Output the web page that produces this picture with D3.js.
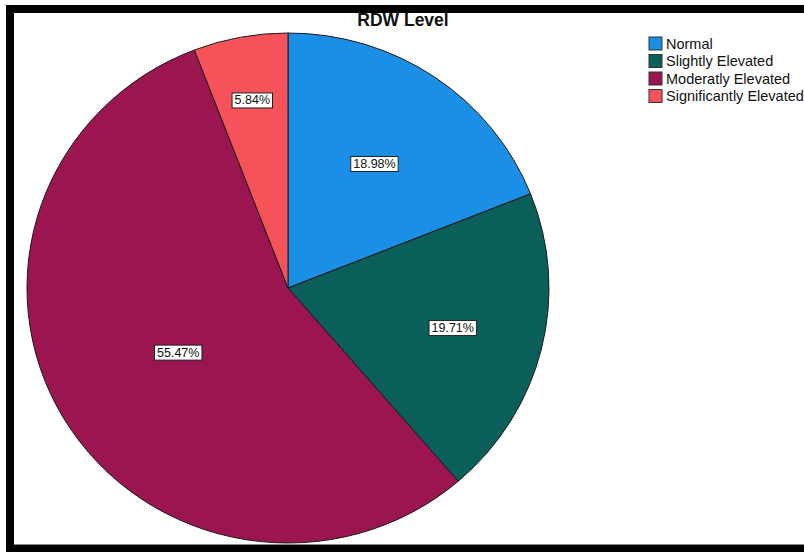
<!DOCTYPE html>
<html>
<head>
<meta charset="utf-8">
<script src="https://cdn.jsdelivr.net/npm/d3@7"></script>
<style>
  body { margin: 0; background: #fff; }
  svg { display: block; font-family: Arial, "Liberation Sans", sans-serif; }
</style>
</head>
<body>
<div id="chart"></div>
<script>
// Data
const categories = ["Normal", "Slightly Elevated", "Moderatly Elevated", "Significantly Elevated"];
const percents = [18.98, 19.71, 55.47, 5.84];
const colors = ["#1b8fe6", "#0a5f5b", "#9b1550", "#f5525a"];
// how far out (fraction of radius) each label sits
const labelPos = [0.59, 0.65, 0.49, 0.75];

const W = 804, H = 552;
const cx = 288, cy = 288, rx = 261, ry = 255;

const svg = d3.select("#chart")
    .append("svg")
    .attr("width", W)
    .attr("height", H);

// black frame
svg.append("rect").attr("x", 6).attr("y", 5).attr("width", W - 6).attr("height", 8).attr("fill", "#000");
svg.append("rect").attr("x", 6).attr("y", 5).attr("width", 8).attr("height", H - 5).attr("fill", "#000");
svg.append("rect").attr("x", 6).attr("y", 545).attr("width", W - 6).attr("height", 7).attr("fill", "#000");
svg.append("line").attr("x1", 14).attr("x2", W).attr("y1", 544.5).attr("y2", 544.5).attr("stroke", "#888");

const table = categories.map((c, i) => ({ key: c, value: percents[i], color: colors[i], lp: labelPos[i] }));

const pie = d3.pie().sort(null).value(d => d.value);
const arcs = pie(table);

const arc = d3.arc().innerRadius(0).outerRadius(rx);

const g = svg.append("g")
    .attr("transform", `translate(${cx},${cy}) scale(1,${ry / rx})`);

g.selectAll("path")
    .data(arcs)
    .join("path")
    .attr("d", arc)
    .attr("fill", d => d.data.color)
    .attr("stroke", "#1a1a1a")
    .attr("stroke-width", 1)
    .attr("vector-effect", "non-scaling-stroke");

// title
svg.append("text")
    .attr("x", 403)
    .attr("y", 26)
    .attr("text-anchor", "middle")
    .style("font-size", "17.5px")
    .style("font-weight", "bold")
    .style("fill", "#111")
    .text("RDW Level");

// percentage labels
const labels = svg.selectAll("g.lbl")
    .data(arcs)
    .join("g")
    .attr("class", "lbl")
    .attr("transform", d => {
        const a = (d.startAngle + d.endAngle) / 2;
        const x = cx + Math.sin(a) * rx * d.data.lp;
        const y = cy - Math.cos(a) * ry * d.data.lp;
        return `translate(${x},${y})`;
    });

labels.append("text")
    .attr("text-anchor", "middle")
    .attr("dy", "0.36em")
    .style("font-size", "12.5px")
    .style("fill", "#111")
    .text(d => d3.format(".2f")(d.data.value) + "%");

labels.each(function() {
    const t = d3.select(this).select("text");
    const b = t.node().getBBox();
    d3.select(this).insert("rect", "text")
        .attr("x", b.x - 2.5)
        .attr("y", b.y - 0.5)
        .attr("width", b.width + 5)
        .attr("height", b.height + 1)
        .attr("fill", "#fff")
        .attr("stroke", "#222")
        .attr("stroke-width", 1);
});

// legend
const legend = svg.append("g").attr("transform", "translate(649,37)");
const row = legend.selectAll("g")
    .data(table)
    .join("g")
    .attr("transform", (d, i) => `translate(0,${i * 17.5})`);

row.append("rect")
    .attr("width", 13)
    .attr("height", 13)
    .attr("fill", d => d.color)
    .attr("stroke", "#333")
    .attr("stroke-width", 1);

row.append("text")
    .attr("x", 17)
    .attr("y", 6.5)
    .attr("dy", "0.36em")
    .style("font-size", "14.5px")
    .style("fill", "#111")
    .text(d => d.key);
</script>
</body>
</html>
